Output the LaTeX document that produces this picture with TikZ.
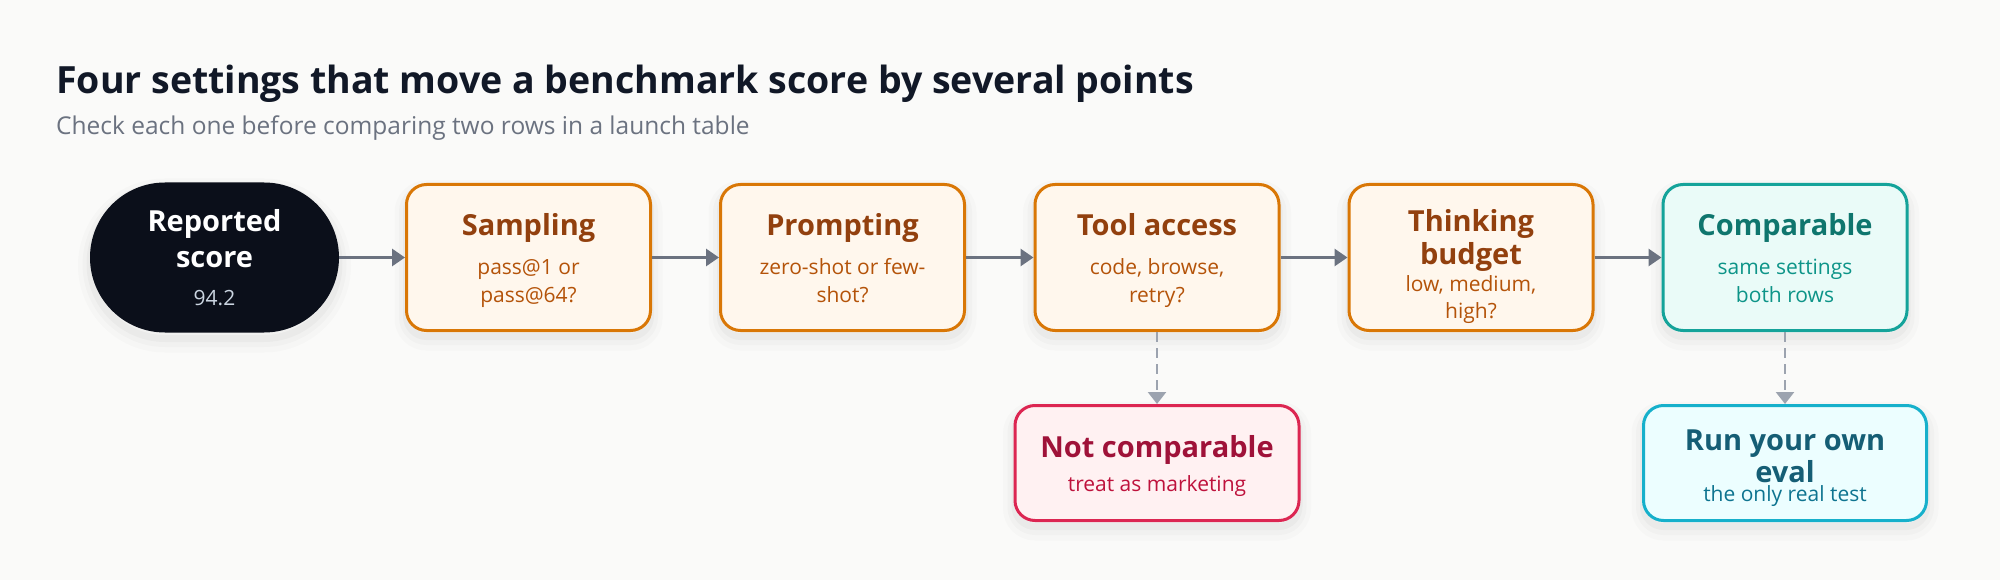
\documentclass[tikz,border=0pt]{standalone}
\usepackage{fontspec}
\setmainfont{Open Sans}
\usetikzlibrary{arrows.meta}
\definecolor{bgc}{HTML}{FAFAF9}
\definecolor{ink}{HTML}{111827}
\definecolor{muted}{HTML}{6B7280}
\definecolor{darkfill}{HTML}{0B0F1A}
\definecolor{darksub}{HTML}{CBD5E1}
\definecolor{ofill}{HTML}{FFF7ED}
\definecolor{oline}{HTML}{D97706}
\definecolor{otitle}{HTML}{92400E}
\definecolor{osub}{HTML}{B45309}
\definecolor{tfill}{HTML}{EAFBF8}
\definecolor{tline}{HTML}{14A39A}
\definecolor{ttitle}{HTML}{0F766E}
\definecolor{tsub}{HTML}{0D9488}
\definecolor{cfill}{HTML}{ECFEFF}
\definecolor{cline}{HTML}{16B0CB}
\definecolor{ctitle}{HTML}{155E75}
\definecolor{csub}{HTML}{0E7490}
\definecolor{rfill}{HTML}{FFF1F2}
\definecolor{rline}{HTML}{DC2652}
\definecolor{rtitle}{HTML}{9F1239}
\definecolor{rsub}{HTML}{BE123C}
\definecolor{arrowc}{HTML}{6B7280}
\definecolor{dashc}{HTML}{9CA3AF}
\tikzset{
  softshadow/.style={
    preaction={draw=black, draw opacity=0.016, line width=24pt, transform canvas={yshift=-8pt}},
    preaction={draw=black, draw opacity=0.02, line width=15pt, transform canvas={yshift=-7pt}},
    preaction={draw=black, draw opacity=0.026, line width=7pt, transform canvas={yshift=-6pt}}},
  box/.style={draw, line width=3pt, rounded corners=20pt, inner sep=0pt,
    minimum width=244pt, minimum height=146pt, softshadow},
  obox/.style={box, fill=ofill, draw=oline},
  tbox/.style={box, fill=tfill, draw=tline},
  cbox/.style={box, fill=cfill, draw=cline, minimum width=283pt, minimum height=115pt},
  rbox/.style={box, fill=rfill, draw=rline, minimum width=284pt, minimum height=115pt},
  pill/.style={fill=darkfill, draw=none, rounded corners=75pt, inner sep=0pt,
    minimum width=249pt, minimum height=150pt, softshadow},
  ttl/.style={inner sep=0pt, anchor=base, font=\fontsize{29}{33}\selectfont\bfseries},
  sub/.style={inner sep=0pt, anchor=base, font=\fontsize{21}{28}\selectfont},
  flow/.style={draw=arrowc, line width=3pt, -{Triangle[length=13pt,width=17pt]}},
  dflow/.style={draw=dashc, line width=2.6pt, dash pattern=on 10pt off 6pt, -{Triangle[length=12pt,width=18pt]}}
}
\begin{document}
\begin{tikzpicture}[x=1pt,y=-1pt]
\fill[bgc] (0,0) rectangle (2000,580);
\useasboundingbox (0,0) rectangle (2000,580);

\node[inner sep=0pt, anchor=base west, text=ink, font=\fontsize{37.5}{44}\selectfont\bfseries] (title) at (56,94) {Four settings that move a benchmark score by several points};
\node[inner sep=0pt, anchor=base west, text=muted, font=\fontsize{24.5}{28}\selectfont] (subtitle) at (56,135) {Check each one before comparing two rows in a launch table};

\node[pill] (rep) at (214.5,257.5) {};
\node[obox] (samp) at (528.5,257.5) {};
\node[obox] (prom) at (842.5,257.5) {};
\node[obox] (tool) at (1157,257.5) {};
\node[obox] (think) at (1471,257.5) {};
\node[tbox] (comp) at (1785,257.5) {};
\node[rbox] (notc) at (1157,463) {};
\node[cbox] (run) at (1785,463) {};

\draw[flow] (rep) -- (samp);
\draw[flow] (samp) -- (prom);
\draw[flow] (prom) -- (tool);
\draw[flow] (tool) -- (think);
\draw[flow] (think) -- (comp);
\draw[dflow] (tool.south) -- (notc.north);
\draw[dflow] (comp.south) -- (run.north);

% Reported score
\node[ttl, text=white] (rep1) at (214.5,232) {Reported};
\node[ttl, text=white] (rep2) at (214.5,267) {score};
\node[sub, text=darksub, font=\fontsize{21}{26}\selectfont] (rep3) at (214.5,305) {94.2};
% Sampling
\node[ttl, text=otitle] (samp1) at (528.5,236) {Sampling};
\node[sub, text=osub] (samp2) at (528.5,274) {pass@1 or};
\node[sub, text=osub] (samp3) at (528.5,302) {pass@64?};
% Prompting
\node[ttl, text=otitle] (prom1) at (842.5,236) {Prompting};
\node[sub, text=osub] (prom2) at (842.5,274) {zero-shot or few-};
\node[sub, text=osub] (prom3) at (842.5,302) {shot?};
% Tool access
\node[ttl, text=otitle] (tool1) at (1157,236) {Tool access};
\node[sub, text=osub] (tool2) at (1157,274) {code, browse,};
\node[sub, text=osub] (tool3) at (1157,302) {retry?};
% Thinking budget
\node[ttl, text=otitle] (think1) at (1471,232) {Thinking};
\node[ttl, text=otitle] (think2) at (1471,265) {budget};
\node[sub, text=osub] (think3) at (1471,291) {low, medium,};
\node[sub, text=osub] (think4) at (1471,318) {high?};
% Comparable
\node[ttl, text=ttitle] (comp1) at (1785,236) {Comparable};
\node[sub, text=tsub] (comp2) at (1785,274) {same settings};
\node[sub, text=tsub] (comp3) at (1785,302) {both rows};
% Not comparable
\node[ttl, text=rtitle] (notc1) at (1157,457) {Not comparable};
\node[sub, text=rsub] (notc2) at (1157,491) {treat as marketing};
% Run your own eval
\node[ttl, text=ctitle] (run1) at (1785,450) {Run your own};
\node[ttl, text=ctitle] (run2) at (1785,482) {eval};
\node[sub, text=csub] (run3) at (1785,501) {the only real test};
\end{tikzpicture}
\end{document}
